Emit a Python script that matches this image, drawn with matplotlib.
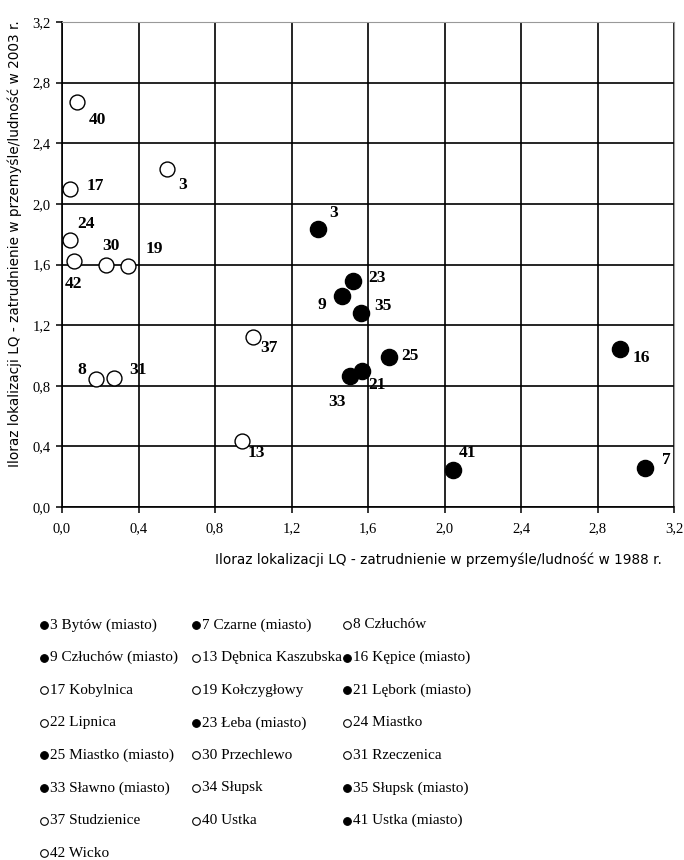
import matplotlib
matplotlib.use("Agg")
import matplotlib.pyplot as plt
import numpy as np

# values (LQ 1988 on x, LQ 2003 on y)
open_ids = [40, 3, 17, 24, 42, 30, 19, 8, 31, 37, 13]
open_x = [0.08, 0.55, 0.04, 0.04, 0.065, 0.23, 0.345, 0.18, 0.27, 1.00, 0.94]
open_y = [2.67, 2.23, 2.10, 1.76, 1.62, 1.60, 1.59, 0.845, 0.85, 1.12, 0.435]

filled_ids = [3, 23, 9, 35, 25, 33, 21, 16, 41, 7]
filled_x = [1.34, 1.52, 1.465, 1.565, 1.71, 1.505, 1.57, 2.92, 2.045, 3.05]
filled_y = [1.835, 1.49, 1.39, 1.28, 0.99, 0.865, 0.90, 1.04, 0.245, 0.255]

ticks = [0.0, 0.4, 0.8, 1.2, 1.6, 2.0, 2.4, 2.8, 3.2]
tick_labels = ["0,0", "0,4", "0,8", "1,2", "1,6", "2,0", "2,4", "2,8", "3,2"]

legend_nums = [3, 7, 8, 9, 13, 16, 17, 19, 21, 22, 23, 24, 25, 30, 31, 33, 34, 35, 37, 40, 41, 42]
legend_names = ["Bytów (miasto)", "Czarne (miasto)", "Człuchów",
                "Człuchów (miasto)", "Dębnica Kaszubska", "Kępice (miasto)",
                "Kobylnica", "Kołczygłowy", "Lębork (miasto)",
                "Lipnica", "Łeba (miasto)", "Miastko",
                "Miastko (miasto)", "Przechlewo", "Rzeczenica",
                "Sławno (miasto)", "Słupsk", "Słupsk (miasto)",
                "Studzienice", "Ustka", "Ustka (miasto)",
                "Wicko"]
legend_filled = [True, True, False, True, False, True, False, False, True, False, True,
                 False, True, False, False, True, False, True, False, False, True, False]

# label offsets in pixels (dx, dy)
open_off = [(20, -18), (15, -16), (26, 3), (16, 16), (-1, -23), (5, 18), (26, 17),
            (-15, 9), (24, 8), (16, -11), (15, -12)]
filled_off = [(15, 16), (24, 3), (-20, -9), (22, 7), (21, 1), (-13, -26), (15, -14),
              (21, -9), (14, 17), (21, 8)]

serif = "Liberation Serif"

fig = plt.figure(figsize=(6.84, 8.6), dpi=100)
ax = fig.add_axes([62/684, 1-507/860, 612/684, 485/860])

ax.set_xlim(0, 3.2)
ax.set_ylim(0, 3.2)
ax.set_xticks(ticks)
ax.set_yticks(ticks)
ax.set_xticklabels(tick_labels, fontsize=10.5, family=serif)
ax.set_yticklabels(tick_labels, fontsize=10.5, family=serif)
ax.tick_params(direction="out", length=4, width=1.1, color="black")
ax.tick_params(axis="x", pad=7)
ax.tick_params(axis="y", pad=4)
ax.grid(True, color="black", lw=1.2)
ax.set_axisbelow(True)
for s in ["top", "right"]:
    ax.spines[s].set_color("#999999")
for s in ["left", "bottom"]:
    ax.spines[s].set_color("black")
    ax.spines[s].set_linewidth(1.2)

ax.scatter(open_x, open_y, s=115, facecolor="white", edgecolor="black", lw=1.0, zorder=3, clip_on=False)
ax.scatter(filled_x, filled_y, s=135, facecolor="black", edgecolor="black", lw=1.0, zorder=3, clip_on=False)

for i, n in enumerate(open_ids):
    ax.annotate(str(n), (open_x[i], open_y[i]), xytext=open_off[i], textcoords="offset pixels",
                ha="center", va="center", fontsize=12.5, fontweight="bold", family=serif, zorder=4)
for i, n in enumerate(filled_ids):
    ax.annotate(str(n), (filled_x[i], filled_y[i]), xytext=filled_off[i], textcoords="offset pixels",
                ha="center", va="center", fontsize=12.5, fontweight="bold", family=serif, zorder=4)

fig.text(215/684, 1-560/860, "Iloraz lokalizacji LQ - zatrudnienie w przemyśle/ludność w 1988 r.",
         ha="left", va="center", fontsize=9.8, family="DejaVu Sans")
fig.text(15/684, 1-20/860, "Iloraz lokalizacji LQ - zatrudnienie w przemyśle/ludność w 2003 r.",
         ha="center", va="top", rotation=90, fontsize=9.8, family="DejaVu Sans")

# legend drawn in pixel coordinates
lg = fig.add_axes([0, 0, 1, 1], zorder=-1)
lg.set_xlim(0, 684)
lg.set_ylim(860, 0)
lg.axis("off")
col_x = [44, 196, 347]
for i, n in enumerate(legend_nums):
    r, c = divmod(i, 3)
    yy = 625 + 32.6 * r
    fc = "black" if legend_filled[i] else "white"
    lg.plot(col_x[c], yy, "o", ms=5.5, mfc=fc, mec="black", mew=0.8)
    lg.text(col_x[c] + 6, yy, f"{n} {legend_names[i]}", ha="left", va="center",
            fontsize=11, family=serif)

fig.savefig("out.png", dpi=100)
